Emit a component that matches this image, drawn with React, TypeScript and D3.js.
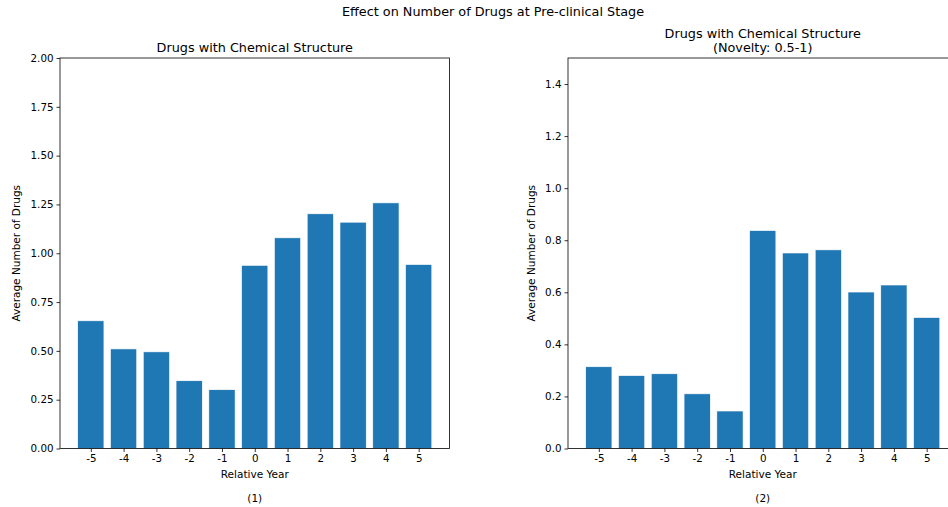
import React, { useRef, useEffect } from 'react';
import * as d3 from 'd3';

const years = [-5, -4, -3, -2, -1, 0, 1, 2, 3, 4, 5];
const drugsAll = [0.654, 0.51, 0.495, 0.347, 0.301, 0.938, 1.079, 1.202, 1.159, 1.258, 0.942];
const drugsNovel = [0.314, 0.28, 0.287, 0.21, 0.144, 0.837, 0.751, 0.763, 0.601, 0.628, 0.503];
const ticksAll = [0, 0.25, 0.5, 0.75, 1.0, 1.25, 1.5, 1.75, 2.0];
const ticksNovel = [0, 0.2, 0.4, 0.6, 0.8, 1.0, 1.2, 1.4];

const suptitle = 'Effect on Number of Drugs at Pre-clinical Stage';

function App() {
  const svgRef = useRef<SVGSVGElement>(null);

  useEffect(() => {
    const width = 948;
    const height = 507;
    const font = 'DejaVu Sans, sans-serif';

    const svg = d3.select(svgRef.current)
      .attr('width', width)
      .attr('height', height)
      .style('font-family', font);
    svg.selectAll('*').remove();

    svg.append('text')
      .attr('x', 493)
      .attr('y', 12)
      .attr('dy', '0.35em')
      .attr('text-anchor', 'middle')
      .style('font-size', '12.8px')
      .text(suptitle);

    // deux panneaux côte à côte
    const panels = [
      {
        x0: 60, x1: 449.5, values: drugsAll, yMax: 2.0, ticks: ticksAll, fmt: '.2f',
        title: ['Drugs with Chemical Structure'], caption: '(1)', labelX: 16,
      },
      {
        x0: 568, x1: 957.5, values: drugsNovel, yMax: 1.5, ticks: ticksNovel, fmt: '.1f',
        title: ['Drugs with Chemical Structure', '(Novelty: 0.5-1)'], caption: '(2)', labelX: 531,
      },
    ];
    const top = 58;
    const bottom = 448.5;

    panels.forEach(p => {
      const x = d3.scaleLinear().domain([-5.94, 5.94]).range([p.x0, p.x1]);
      const y = d3.scaleLinear().domain([0, p.yMax]).range([bottom, top]);
      const g = svg.append('g');

      g.selectAll('rect.bar')
        .data(p.values)
        .join('rect')
        .attr('class', 'bar')
        .attr('x', (d, i) => x(years[i] - 0.4))
        .attr('width', x(0.4) - x(-0.4))
        .attr('y', d => y(d))
        .attr('height', d => y(0) - y(d))
        .attr('fill', '#1f77b4')
        .attr('stroke', '#ffffff')
        .attr('stroke-width', 0.6);

      // axes
      const xAxis = d3.axisBottom(x)
        .tickValues(years)
        .tickFormat(d => String(d))
        .tickSize(3.5)
        .tickSizeOuter(0)
        .tickPadding(3);
      const yAxis = d3.axisLeft(y)
        .tickValues(p.ticks)
        .tickFormat(d3.format(p.fmt))
        .tickSize(3.5)
        .tickSizeOuter(0)
        .tickPadding(3);

      const gx = g.append('g').attr('transform', `translate(0,${bottom})`).call(xAxis);
      const gy = g.append('g').attr('transform', `translate(${p.x0},0)`).call(yAxis);
      [gx, gy].forEach(a => {
        a.select('.domain').remove();
        a.selectAll('text').style('font-size', '10.3px').style('font-family', font).attr('fill', '#000');
        a.selectAll('line').attr('stroke', '#000').attr('stroke-width', 0.8);
      });

      // cadre
      g.append('rect')
        .attr('x', p.x0)
        .attr('y', top)
        .attr('width', p.x1 - p.x0)
        .attr('height', bottom - top)
        .attr('fill', 'none')
        .attr('stroke', '#000')
        .attr('stroke-width', 0.8);

      const cx = (p.x0 + p.x1) / 2;
      const lines = p.title.length;
      p.title.forEach((t, i) => {
        g.append('text')
          .attr('x', cx)
          .attr('y', 52 - (lines - 1 - i) * 14.5)
          .attr('text-anchor', 'middle')
          .style('font-size', '12.8px')
          .text(t);
      });

      g.append('text')
        .attr('x', cx)
        .attr('y', 478)
        .attr('text-anchor', 'middle')
        .style('font-size', '10.5px')
        .text('Relative Year');

      g.append('text')
        .attr('x', cx)
        .attr('y', 502)
        .attr('text-anchor', 'middle')
        .style('font-size', '10.5px')
        .text(p.caption);

      g.append('text')
        .attr('transform', `translate(${p.labelX},${(top + bottom) / 2}) rotate(-90)`)
        .attr('dy', '0.35em')
        .attr('text-anchor', 'middle')
        .style('font-size', '10.5px')
        .text('Average Number of Drugs');
    });
  }, []);

  return <svg ref={svgRef} style={{ position: 'absolute', left: 0, top: 0 }}></svg>;
}

export default App;
